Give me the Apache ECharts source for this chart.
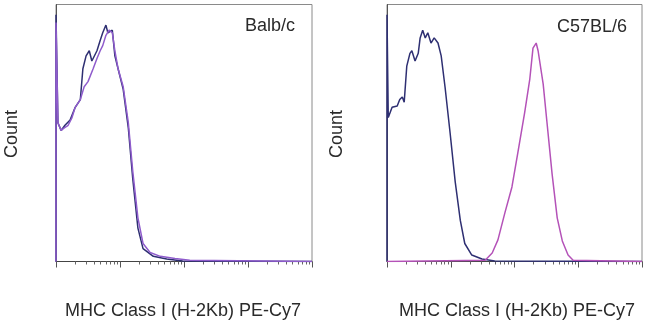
<!DOCTYPE html>
<html>
<head>
<meta charset="utf-8">
<script src="https://cdn.jsdelivr.net/npm/echarts@6/dist/echarts.min.js"></script>
<style>html,body{margin:0;padding:0;background:#fff;}#c{width:650px;height:323px;}</style>
</head>
<body>
<div id="c"></div>
<script>
// x in log decades (0..4), y in % of max count
var balbBlue = [[0,0],[0,96],[0.03,54],[0.08,51],[0.14,53],[0.22,55],[0.30,60],[0.38,63],[0.42,75],[0.47,80],[0.52,82],[0.56,78],[0.64,82],[0.69,86],[0.73,89],[0.78,92],[0.81,89],[0.88,90],[0.92,80],[0.97,75],[1.05,67],[1.13,52],[1.20,32],[1.28,13],[1.36,5],[1.52,2],[1.73,1],[1.98,0.2],[4,0]];
var balbPurple = [[0,0],[0,93],[0.03,54],[0.08,51],[0.13,52],[0.19,53],[0.25,56],[0.30,60],[0.38,63],[0.44,68],[0.50,70],[0.58,75],[0.64,79],[0.69,82],[0.73,84],[0.78,88],[0.83,90],[0.88,89],[0.92,82],[0.97,75],[1.05,68],[1.13,54],[1.20,35],[1.28,17],[1.36,7],[1.47,3.5],[1.63,2],[1.86,1.2],[2.09,0.5],[4,0]];
var b6Blue = [[0,0],[0,96],[0.02,56],[0.08,60],[0.16,60.5],[0.20,63],[0.24,64],[0.27,62],[0.31,76],[0.36,81],[0.39,82],[0.44,78],[0.49,81],[0.52,87],[0.56,90],[0.60,87],[0.64,89],[0.69,85],[0.74,87],[0.80,85],[0.85,80],[0.91,68],[0.99,50],[1.07,31],[1.15,16],[1.22,7],[1.33,2.5],[1.49,1],[1.69,0.2],[4,0]];
var b6Magenta = [[0,0],[1.54,0.5],[1.65,3.3],[1.74,8.4],[1.85,19],[1.96,29],[2.05,42],[2.16,58],[2.24,71],[2.29,83],[2.34,85],[2.37,82],[2.45,69],[2.51,54],[2.59,34],[2.67,17],[2.75,8],[2.84,2.5],[2.92,0.5],[4,0]];

var panelLabels = ['Balb/c', 'C57BL/6'];
var xTitle = 'MHC Class I (H-2Kb) PE-Cy7';
var yTitle = 'Count';
var majorTicks = [0, 1, 2, 3, 4];
var minorMultiples = [2, 3, 4, 5, 6, 7, 8, 9];
var minorTicks = [];
for (var d = 0; d < 4; d++) for (var i = 0; i < minorMultiples.length; i++) minorTicks.push(d + Math.log10(minorMultiples[i]));

var FONT = '"Liberation Sans", Arial, sans-serif';
var grids = [
  {left: 56, top: 4.5, width: 256, height: 257},
  {left: 387, top: 4.5, width: 255, height: 257}
];
function xMajor(g) {
  return {gridIndex: g, type: 'value', position: 'bottom', offset: 0, min: 0, max: 4, interval: 1,
    axisLine: {show: true, lineStyle: {color: '#444', width: 1}},
    axisTick: {show: true, length: 6, lineStyle: {color: '#555'}, customValues: majorTicks},
    axisLabel: {show: false}, splitLine: {show: false}};
}
function xMinor(g) {
  return {gridIndex: g, type: 'value', position: 'bottom', offset: 0, min: 0, max: 4, interval: 1,
    axisLine: {show: false},
    axisTick: {show: true, length: 3, lineStyle: {color: '#666'}, customValues: minorTicks},
    axisLabel: {show: false}, splitLine: {show: false}};
}
function yAx(g) {
  return {gridIndex: g, type: 'value', position: 'left', min: 0, max: 100,
    axisLine: {show: true, lineStyle: {color: '#555', width: 1}},
    axisTick: {show: false}, axisLabel: {show: false}, splitLine: {show: false}};
}
function ln(xi, yi, data, color) {
  return {type: 'line', xAxisIndex: xi, yAxisIndex: yi, data: data, showSymbol: false,
    lineStyle: {color: color, width: 1.5}, animation: false, silent: true};
}
var chart = echarts.init(document.getElementById('c'), null, {renderer: 'canvas'});
chart.setOption({
  animation: false,
  backgroundColor: '#fff',
  grid: grids.map(function (g) { return Object.assign({show: true, borderColor: '#8a8a8a', borderWidth: 1}, g); }),
  xAxis: [xMajor(0), xMinor(0), xMajor(1), xMinor(1)],
  yAxis: [yAx(0), yAx(1)],
  series: [
    ln(0, 0, balbBlue, '#2e2f72'),
    ln(0, 0, balbPurple, '#8f5ccc'),
    ln(2, 1, b6Blue, '#2e2f72'),
    ln(2, 1, b6Magenta, '#b452b8')
  ],
  graphic: [
    {type: 'text', x: 295, y: 26, style: {text: panelLabels[0], fontSize: 18, fontFamily: FONT, fill: '#2a2a2a', align: 'right', verticalAlign: 'middle'}},
    {type: 'text', x: 627, y: 27, style: {text: panelLabels[1], fontSize: 18, fontFamily: FONT, fill: '#2a2a2a', align: 'right', verticalAlign: 'middle'}},
    {type: 'text', x: 12, y: 134, rotation: Math.PI / 2, style: {text: yTitle, fontSize: 18, fontFamily: FONT, fill: '#2a2a2a', align: 'center', verticalAlign: 'middle'}},
    {type: 'text', x: 337, y: 134, rotation: Math.PI / 2, style: {text: yTitle, fontSize: 18, fontFamily: FONT, fill: '#2a2a2a', align: 'center', verticalAlign: 'middle'}},
    {type: 'text', x: 183, y: 311, style: {text: xTitle, fontSize: 18, fontFamily: FONT, fill: '#2a2a2a', align: 'center', verticalAlign: 'middle'}},
    {type: 'text', x: 517, y: 311, style: {text: xTitle, fontSize: 18, fontFamily: FONT, fill: '#2a2a2a', align: 'center', verticalAlign: 'middle'}}
  ]
});
</script>
</body>
</html>
